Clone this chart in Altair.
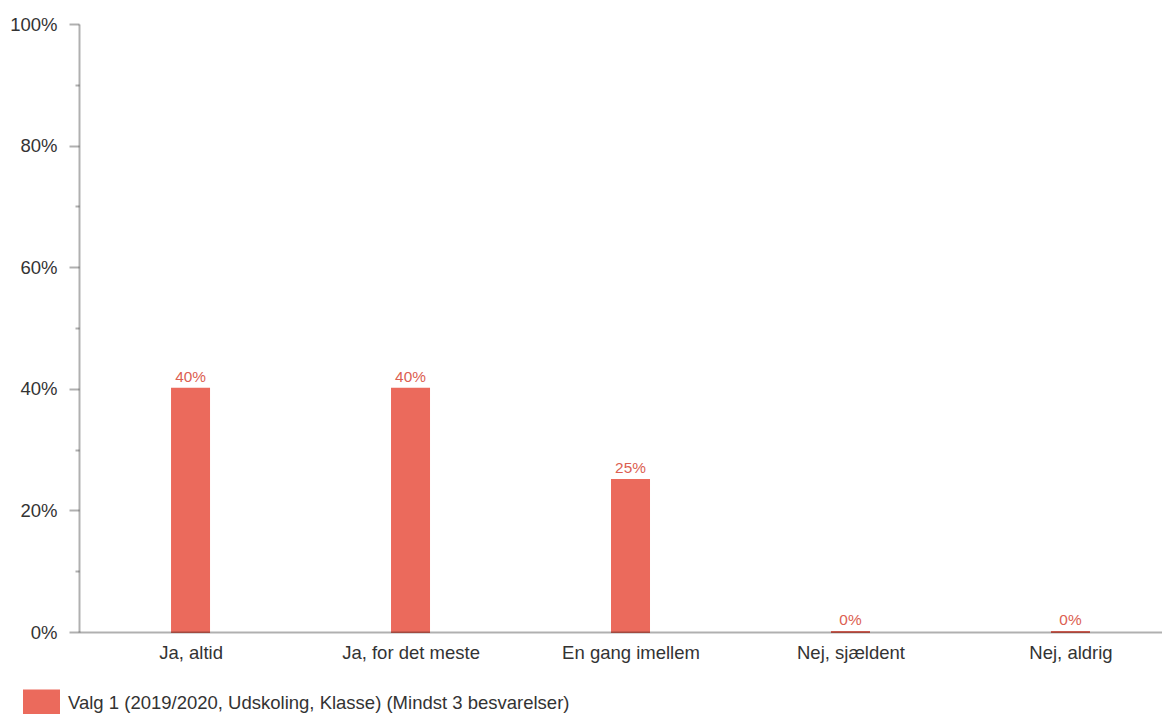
import altair as alt
import pandas as pd

categories = ["Ja, altid", "Ja, for det meste", "En gang imellem", "Nej, sjældent", "Nej, aldrig"]
values = [0.40, 0.40, 0.25, 0.0, 0.0]
labels = ["40%", "40%", "25%", "0%", "0%"]
series = "Valg 1 (2019/2020, Udskoling, Klasse) (Mindst 3 besvarelser)"

df = pd.DataFrame({"idx": list(range(len(categories))), "cat": categories,
                   "value": values, "label": labels, "series": series})

FONT = "Liberation Sans"
AXC = "#000000"
AXO = 0.31
BAR = "#eb6a5c"
FS = 18.5

cat_js = "[" + ",".join("'" + c + "'" for c in categories) + "]"

xscale = alt.Scale(domain=[-0.507, 4.416], nice=False, zero=False, padding=0)
xenc = alt.X("idx:Q", title=None, scale=xscale,
             axis=alt.Axis(values=list(range(len(categories))), labelExpr=cat_js + "[datum.value]",
                           labelAngle=0, ticks=False, grid=False, domainColor=AXC, domainOpacity=AXO,
                           domainWidth=2, labelFont=FONT, labelFontSize=FS,
                           labelColor="#333333", labelPadding=11, zindex=1))

yscale = alt.Scale(domain=[0, 1], nice=False)

bars = alt.Chart(df).mark_bar(width=39, yOffset=-1, y2Offset=1).encode(
    x=xenc,
    y=alt.Y("value:Q", scale=yscale, title=None,
            axis=alt.Axis(orient="left", values=[0, 0.2, 0.4, 0.6, 0.8, 1.0], format=".0%",
                          grid=False, domainColor=AXC, domainOpacity=AXO, domainWidth=2,
                          tickColor=AXC, tickOpacity=AXO, tickWidth=2, tickSize=10,
                          labelFont=FONT, labelFontSize=FS, labelColor="#333333",
                          labelPadding=12, zindex=1)),
    y2=alt.datum(0),
    color=alt.Color("series:N", scale=alt.Scale(range=[BAR]),
                    legend=alt.Legend(title=None, orient="none", legendX=-56, legendY=660,
                                      symbolType="M-1,-0.7H1V0.7H-1Z", symbolSize=1369,
                                      symbolStrokeWidth=0, symbolOpacity=1, labelLimit=0,
                                      labelFont=FONT, labelFontSize=FS, labelColor="#333333",
                                      labelOffset=8, padding=0)),
)

minor = alt.Chart(df).mark_tick(opacity=0).encode(
    y=alt.Y("value:Q", scale=yscale, title=None,
            axis=alt.Axis(orient="left", values=[0.1, 0.3, 0.5, 0.7, 0.9], labels=False,
                          grid=False, domain=False, tickColor=AXC, tickOpacity=AXO,
                          tickWidth=2, tickSize=4, zindex=1)),
)

text = alt.Chart(df).mark_text(dy=-7, baseline="alphabetic", font=FONT, fontSize=15.4,
                               color="#dc5f52").encode(
    x=alt.X("idx:Q", scale=xscale),
    y=alt.Y("value:Q", scale=yscale),
    text="label:N",
)

chart = alt.layer(bars, text, minor).resolve_axis(y="independent").properties(
    width=1083, height=608,
    autosize=alt.AutoSizeParams(type="none"),
    padding={"left": 71, "top": 16, "right": 0, "bottom": 82},
).configure_view(stroke=None)

chart.save("out.html", embed_options={"renderer": "svg", "actions": False})
